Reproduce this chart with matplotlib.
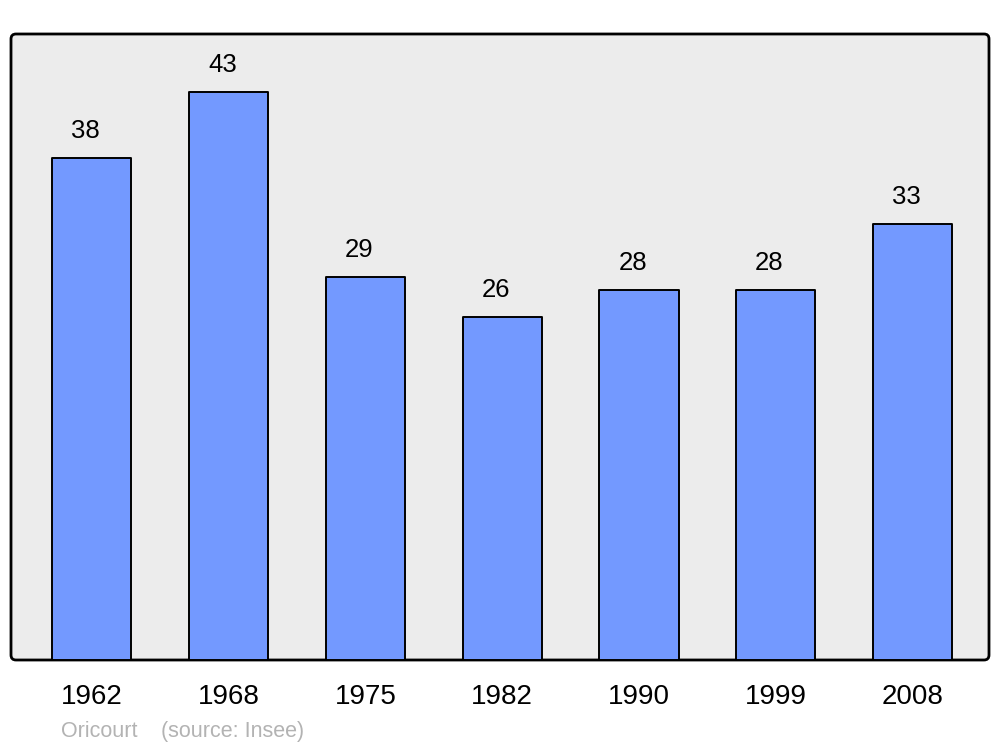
import matplotlib.pyplot as plt
from matplotlib.patches import FancyBboxPatch

# 데이터
years = ['1962', '1968', '1975', '1982', '1990', '1999', '2008']
population = [38, 43, 29, 26, 28, 28, 33]

plt.rcParams['font.family'] = ['Liberation Sans', 'DejaVu Sans']

fig = plt.figure(figsize=(10, 7.47), dpi=100)
ax = fig.add_axes([11 / 1000, 87 / 747, 978 / 1000, 626 / 747])
ax.set_facecolor('none')
ax.set_zorder(2)

# 둥근 모서리 배경 프레임
frame = FancyBboxPatch((11 / 1000, 87 / 747), 978 / 1000, 626 / 747,
                       boxstyle='round,pad=0,rounding_size=0.005',
                       mutation_aspect=1000 / 747,
                       transform=fig.transFigure, facecolor='#ececec',
                       edgecolor='black', linewidth=2, zorder=-1)
fig.patches.append(frame)

x = range(len(years))
bars = ax.bar(x, population, width=0.578, color='#7399ff',
              edgecolor='black', linewidth=1.4, joinstyle='round')

for xi, v in zip(x, population):
    ax.annotate(str(v), (xi, v), xytext=(-4.5, 14.4), textcoords='offset points',
                ha='center', va='baseline', fontsize=18.5)

ax.set_xlim(-0.592, 6.559)
ax.set_ylim(0, 47.42)
ax.set_xticks(list(x))
ax.set_xticklabels(years, fontsize=20)
ax.tick_params(axis='x', length=0, pad=17)
ax.set_yticks([])
for s in ax.spines.values():
    s.set_visible(False)

fig.text(61 / 1000, 10 / 747, 'Oricourt', fontsize=15.5, color='#b3b3b3')
fig.text(161 / 1000, 10 / 747, '(source: Insee)', fontsize=15.5, color='#b3b3b3')

fig.savefig('out.png', dpi=100)
